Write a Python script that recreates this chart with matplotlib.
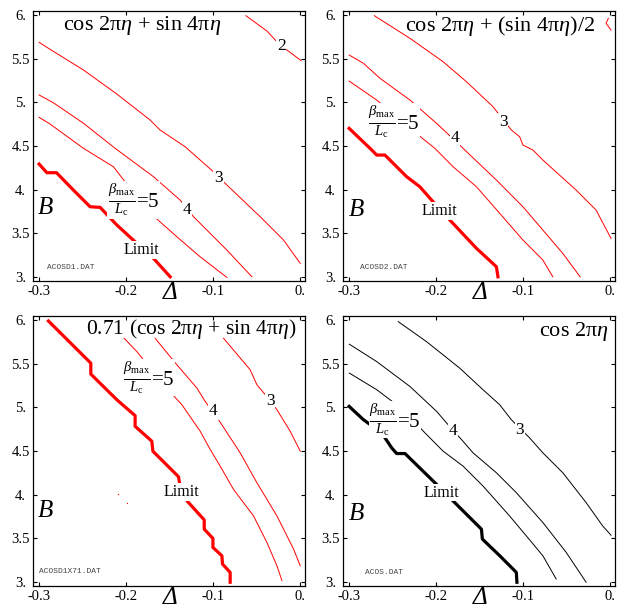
import matplotlib
matplotlib.use('Agg')
import matplotlib.pyplot as plt
import matplotlib.transforms as mtransforms

plt.rcParams['font.family'] = ['Liberation Serif', 'DejaVu Serif']
plt.rcParams['mathtext.fontset'] = 'custom'
plt.rcParams['mathtext.rm'] = 'Liberation Serif'
plt.rcParams['mathtext.it'] = 'Liberation Serif:italic'
plt.rcParams['mathtext.bf'] = 'Liberation Serif:bold'

# tick values and labels
x_ticks = [-0.3, -0.2, -0.1, 0.0]
x_labels = ['-0.3', '-0.2', '-0.1', '0.']
y_ticks = [3.0, 3.5, 4.0, 4.5, 5.0, 5.5, 6.0]
y_labels = ['3.', '3.5', '4.', '4.5', '5.', '5.5', '6.']

# panel 1: cos 2pi eta + sin 4pi eta
p1_c2_x = [-0.0624, -0.0383, -0.0287, -0.0218, -0.0153, 0.0011]
p1_c2_y = [5.992, 5.817, 5.714, 5.645, 5.599, 5.477]
p1_c3_x = [-0.300, -0.2874, -0.249, -0.2107, -0.1724, -0.161, -0.1322, -0.0997, -0.0843, -0.046, -0.0192, 0.0]
p1_c3_y = [5.687, 5.607, 5.37, 5.095, 4.797, 4.683, 4.491, 4.205, 4.053, 3.69, 3.423, 3.156]
p1_c4_x = [-0.300, -0.2836, -0.249, -0.2126, -0.1686, -0.1379, -0.1226, -0.0843, -0.0555]
p1_c4_y = [5.084, 4.995, 4.76, 4.473, 4.148, 3.88, 3.69, 3.308, 3.002]
p1_c5_x = [-0.300, -0.2874, -0.249, -0.2146, -0.1762, -0.1417, -0.115, -0.0843]
p1_c5_y = [4.828, 4.751, 4.473, 4.262, 3.766, 3.46, 3.231, 2.995]
p1_lim_x = [-0.300, -0.2911, -0.280, -0.2606, -0.2414, -0.2299, -0.2107, -0.1897, -0.1686, -0.1494]
p1_lim_y = [4.293, 4.194, 4.194, 3.995, 3.804, 3.797, 3.595, 3.403, 3.213, 3.002]

# panel 2: cos 2pi eta + (sin 4pi eta)/2
p2_c2_x = [-0.0022, -0.0048, 0.0009]
p2_c2_y = [5.962, 5.905, 5.828]
p2_c3_x = [-0.271, -0.2301, -0.192, -0.1652, -0.1347, -0.1136, -0.1041, -0.1003, -0.0889,
           -0.0774, -0.0392, -0.0163, 0.0009]
p2_c3_y = [5.992, 5.733, 5.465, 5.236, 4.95, 4.683, 4.606, 4.511, 4.454,
           4.339, 3.995, 3.766, 3.442]
p2_c4_x = [-0.300, -0.2836, -0.2645, -0.2301, -0.1995, -0.1709, -0.1671, -0.1308, -0.1003,
           -0.0774, -0.0545, -0.0346]
p2_c4_y = [5.542, 5.447, 5.275, 5.026, 4.759, 4.491, 4.454, 4.11, 3.804,
           3.537, 3.27, 3.002]
p2_c5_x = [-0.300, -0.2683, -0.2473, -0.2301, -0.2015, -0.1805, -0.1537, -0.127, -0.1003,
           -0.0774, -0.066]
p2_c5_y = [5.244, 5.026, 4.855, 4.702, 4.473, 4.262, 4.033, 3.729, 3.423,
           3.194, 3.002]
p2_lim_x = [-0.300, -0.274, -0.2683, -0.2588, -0.2339, -0.2187, -0.2053, -0.1843, -0.1537,
            -0.1308, -0.129]
p2_lim_y = [4.702, 4.454, 4.396, 4.396, 4.148, 4.033, 3.881, 3.652, 3.328,
            3.117, 3.002]

# panel 3: 0.71 (cos 2pi eta + sin 4pi eta)
p3_c3_x = [-0.0881, -0.0575, -0.0498, -0.0402, -0.0268, -0.0115, 0.0]
p3_c3_y = [5.791, 5.43, 5.259, 5.145, 4.973, 4.726, 4.498]
p3_c4_x = [-0.1667, -0.1417, -0.1187, -0.1092, -0.0939, -0.069, -0.0498, -0.0268, -0.0077, 0.0]
p3_c4_y = [5.791, 5.487, 5.221, 5.068, 4.859, 4.479, 4.137, 3.757, 3.377, 3.186]
p3_c5_x = [-0.2023, -0.1877, -0.1571, -0.136, -0.1149, -0.1034, -0.092, -0.0767, -0.0537,
           -0.0383, -0.0268, -0.021]
p3_c5_y = [5.791, 5.639, 5.259, 5.03, 4.726, 4.517, 4.327, 4.061, 3.757,
           3.453, 3.186, 3.015]
p3_lim_x = [-0.2893, -0.2406, -0.2406, -0.2107, -0.1897, -0.1897, -0.1705, -0.1693, -0.1399,
            -0.1387, -0.1302, -0.1103, -0.1103, -0.1003, -0.1003, -0.090, -0.0893, -0.0805, -0.0805]
p3_lim_y = [5.989, 5.506, 5.381, 5.087, 4.905, 4.783, 4.612, 4.498, 4.206,
            4.137, 3.93, 3.711, 3.605, 3.499, 3.396, 3.30, 3.205, 3.11, 2.997]
p3_specks_x = [-0.2088, -0.1992]
p3_specks_y = [4.004, 3.909]

# panel 4: cos 2pi eta
p4_c3_x = [-0.2435, -0.211, -0.1729, -0.1462, -0.127, -0.1137, -0.0927, -0.0774, -0.0545,
           -0.0277, -0.0087, 0.0009]
p4_c3_y = [5.981, 5.752, 5.449, 5.202, 5.03, 4.859, 4.651, 4.479, 4.251,
           3.909, 3.642, 3.536]
p4_c4_x = [-0.2997, -0.2683, -0.2301, -0.1995, -0.1881, -0.1709, -0.1576, -0.1308, -0.1079,
           -0.0774, -0.0506, -0.0277]
p4_c4_y = [5.723, 5.524, 5.239, 4.954, 4.822, 4.631, 4.479, 4.251, 4.023,
           3.681, 3.339, 2.997]
p4_c5_x = [-0.2997, -0.2683, -0.2378, -0.2129, -0.192, -0.1691, -0.1462, -0.1156, -0.0964,
           -0.0774, -0.0621]
p4_c5_y = [5.392, 5.202, 4.973, 4.708, 4.498, 4.327, 4.099, 3.756, 3.528,
           3.30, 3.034]
p4_lim_x = [-0.300, -0.2836, -0.2626, -0.2511, -0.2454, -0.2358, -0.2015, -0.1786, -0.148,
            -0.1469, -0.127, -0.1079, -0.1072]
p4_lim_y = [5.011, 4.859, 4.707, 4.536, 4.471, 4.471, 4.137, 3.909, 3.605,
            3.491, 3.301, 3.11, 2.997]


def style_axes(ax):
    ax.set_xlim(-0.307, 0.0055)
    ax.set_ylim(2.954, 6.046)
    ax.set_xticks(x_ticks)
    ax.set_xticklabels(x_labels)
    ax.set_yticks(y_ticks)
    ax.set_yticklabels(y_labels, ha='center')
    ax.tick_params(direction='in', length=3, width=0.8, top=True, right=True,
                   labelsize=10.5)
    ax.tick_params(axis='y', pad=9)
    ax.tick_params(axis='x', pad=3)
    for s in ax.spines.values():
        s.set_linewidth(0.9)
    trans = mtransforms.blended_transform_factory(ax.transData, ax.transAxes)
    ax.text(-0.15, -0.045, 'Δ', transform=trans, fontsize=18, style='italic',
            ha='center', va='center', clip_on=False)


def label(ax, x, y, s, size=12.5, **kw):
    ax.text(x, y, s, fontsize=size, ha='center', va='center',
            bbox=dict(fc='white', ec='none', pad=0.5), **kw)


def tag(ax, x, y, s):
    ax.text(x, y, s, fontsize=5.7, family='Liberation Mono', color='#444444',
            ha='left', va='center')


fig = plt.figure(figsize=(6.23, 6.04), dpi=100)
ax1 = fig.add_axes([0.053, 0.5348, 0.4366, 0.447])
ax2 = fig.add_axes([0.5506, 0.5348, 0.4366, 0.447])
ax3 = fig.add_axes([0.053, 0.0298, 0.4366, 0.447])
ax4 = fig.add_axes([0.5506, 0.0298, 0.4366, 0.447])

frac = r'$\frac{\beta_{\rm max}}{L_{\rm c}}$=5'
red = '#ff0000'
title_size = 16

# 1
for xs, ys in [(p1_c2_x, p1_c2_y), (p1_c3_x, p1_c3_y), (p1_c4_x, p1_c4_y), (p1_c5_x, p1_c5_y)]:
    ax1.plot(xs, ys, color=red, lw=0.7)
ax1.plot(p1_lim_x, p1_lim_y, color=red, lw=2.3)
label(ax1, -0.0218, 5.645, '2')
label(ax1, -0.0939, 4.129, '3')
label(ax1, -0.1302, 3.766, '4')
label(ax1, -0.1916, 3.88, frac, 15)
label(ax1, -0.182, 3.308, 'Limit', 11.5)
ax1.text(-0.182, 5.885, r'cos 2π$\eta$ + sin 4π$\eta$', fontsize=title_size, ha='center', va='center')
ax1.text(-0.293, 3.79, 'B', fontsize=18, style='italic', ha='center', va='center')
tag(ax1, -0.291, 3.113, 'ACOSD1.DAT')
style_axes(ax1)

# 2
for xs, ys in [(p2_c2_x, p2_c2_y), (p2_c3_x, p2_c3_y), (p2_c4_x, p2_c4_y), (p2_c5_x, p2_c5_y)]:
    ax2.plot(xs, ys, color=red, lw=0.7)
ax2.plot(p2_lim_x, p2_lim_y, color=red, lw=2.3)
label(ax2, -0.1232, 4.778, '3')
label(ax2, -0.1786, 4.588, '4')
label(ax2, -0.2492, 4.778, frac, 15)
label(ax2, -0.1958, 3.755, 'Limit', 11.5)
ax2.text(-0.1261, 5.874, r'cos 2π$\eta$ + (sin 4π$\eta$)/2', fontsize=title_size, ha='center', va='center')
ax2.text(-0.2912, 3.766, 'B', fontsize=18, style='italic', ha='center', va='center')
tag(ax2, -0.2874, 3.11, 'ACOSD2.DAT')
style_axes(ax2)

# 3
for xs, ys in [(p3_c3_x, p3_c3_y), (p3_c4_x, p3_c4_y), (p3_c5_x, p3_c5_y)]:
    ax3.plot(xs, ys, color=red, lw=0.7)
ax3.plot(p3_lim_x, p3_lim_y, color=red, lw=2.3)
ax3.plot(p3_specks_x, p3_specks_y, ls='none', marker='s', ms=0.8, color=red, mew=0)
label(ax3, -0.0345, 5.068, '3')
label(ax3, -0.0997, 4.954, '4')
label(ax3, -0.1744, 5.342, frac, 15)
label(ax3, -0.136, 4.03, 'Limit', 11.5)
ax3.text(-0.1255, 5.897, r'0.71 (cos 2π$\eta$ + sin 4π$\eta$)', fontsize=15.5, ha='center',
         va='center')
ax3.text(-0.2931, 3.813, 'B', fontsize=18, style='italic', ha='center', va='center')
tag(ax3, -0.2996, 3.117, 'ACOSD1X71.DAT')
style_axes(ax3)

# 4
for xs, ys in [(p4_c3_x, p4_c3_y), (p4_c4_x, p4_c4_y), (p4_c5_x, p4_c5_y)]:
    ax4.plot(xs, ys, color='black', lw=0.7)
ax4.plot(p4_lim_x, p4_lim_y, color='black', lw=2.3)
label(ax4, -0.1041, 4.745, '3')
label(ax4, -0.1805, 4.726, '4')
label(ax4, -0.2473, 4.859, frac, 15)
label(ax4, -0.1938, 4.023, 'Limit', 11.5)
ax4.text(-0.0423, 5.874, r'cos 2π$\eta$', fontsize=title_size, ha='center', va='center')
ax4.text(-0.2912, 3.776, 'B', fontsize=18, style='italic', ha='center', va='center')
tag(ax4, -0.2817, 3.11, 'ACOS.DAT')
style_axes(ax4)

fig.savefig('out.png', dpi=100)
